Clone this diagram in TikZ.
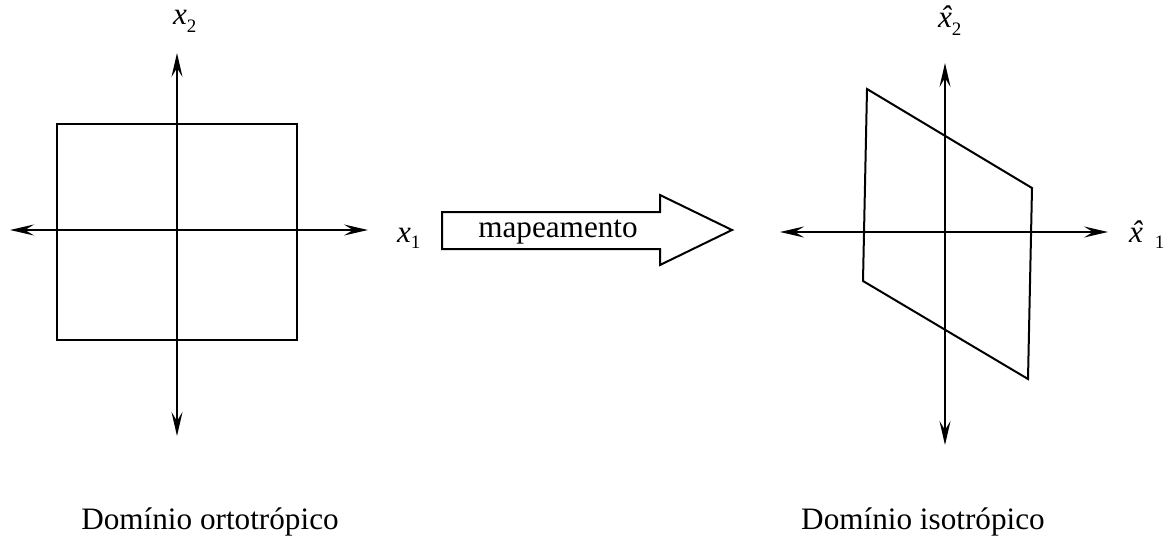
\documentclass[tikz,border=0pt]{standalone}
\usepackage{fontspec}
\setmainfont{Liberation Serif}
\usetikzlibrary{arrows.meta}
\newcommand\axlabel[3]{#1\raisebox{-#3}{\fontsize{9.5}{10}\selectfont #2}}
% italic x with a circumflex set over it
\newcommand\hatx{\textit{x\makebox[0pt][r]{\char"02C6\hspace{0.6pt}}}}
\begin{document}
\begin{tikzpicture}[x=0.5pt,y=-0.5pt,
  line width=1pt,
  >={Stealth[length=12pt,width=5.5pt,inset=4.5pt]},
  axis/.style={<->},
  lbl/.style={inner sep=0pt,font=\fontsize{15.6}{18}\selectfont}]
\useasboundingbox (0,0) rectangle (1167,540);

% ---- orthotropic domain ----
\coordinate (lW) at (10,230);
\coordinate (lE) at (368,230);
\coordinate (lN) at (177,53);
\coordinate (lS) at (177,436);
\draw (57,124) rectangle (297,340);
\draw[axis] (lW) -- (lE);
\draw[axis] (lS) -- (lN);
\node[lbl,anchor=base west] (x1) at (396,242) {\axlabel{\textit{x}}{1}{3pt}};
\node[lbl,anchor=base west] (x2) at (172,25) {\axlabel{\textit{x}}{2}{4pt}};
\node[lbl,anchor=base] (tl) at (210,529) {Domínio ortotrópico};

% ---- mapping arrow ----
\draw (442,212) -- (660,212) -- (660,195) -- (732,230) -- (660,265)
      -- (660,249) -- (442,249) -- cycle;
\node[lbl,anchor=base] (map) at (558,237) {mapeamento};

% ---- isotropic domain ----
\coordinate (rW) at (780,232);
\coordinate (rE) at (1108,232);
\coordinate (rN) at (945,63);
\coordinate (rS) at (945,445);
\coordinate (p1) at (867,89);
\coordinate (p2) at (1032,188);
\coordinate (p3) at (1028,379);
\coordinate (p4) at (863,281);
\draw (p1) -- (p2) -- (p3) -- (p4) -- cycle;
\draw[axis] (rW) -- (rE);
\draw[axis] (rS) -- (rN);
\node[lbl,anchor=base west] (xh1) at (1128,242) {\hatx\hspace{6pt}\raisebox{-3pt}{\fontsize{9.5}{10}\selectfont 1}};
\node[lbl,anchor=base west] (xh2) at (937,28) {\axlabel{\hatx}{2}{4pt}};
\node[lbl,anchor=base] (tr) at (923,529) {Domínio isotrópico};
\end{tikzpicture}
\end{document}
